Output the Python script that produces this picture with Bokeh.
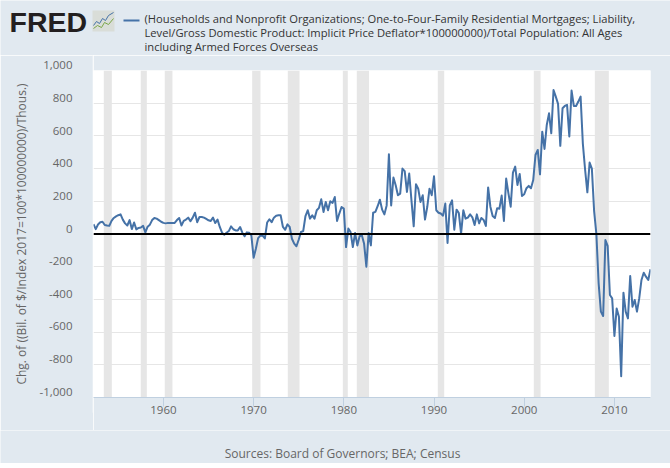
from bokeh.plotting import figure
from bokeh.layouts import column, row
from bokeh.models import FixedTicker, NumeralTickFormatter, Span
from bokeh.core.properties import value
from bokeh.embed import file_html
from bokeh.resources import INLINE

BG = "#e1e9f0"
LINE = "#4572a7"
GREY = "#666666"
FONT = "Open Sans"

start_year = 1952.25
values_1950s = [60, 30, 58,
    72, 75, 55, 52, 50, 80, 98, 108, 115, 120, 88, 65, 52, 85, 30, 70,
    28, 37, 40, 50, 10, 45, 57, 85, 98, 94, 85, 75]
values_1960s = [68, 65, 68, 68, 68, 68, 85, 98, 52, 80, 88, 100, 78, 100, 130, 72,
    104, 104, 100, 92, 84, 80, 100, 67, 88, 43, 8, -4, 8, 18, 47, 29,
    22, 22, 43, 8, -14, 10, 8, -8]
values_1970s = [-145, -90, -25, -10, -10, -27, 70, 90, 72, 100, 112, 114,
    114, 43, 26, 59, 43, -29, -59, -75, -35, 12, 18, 110, 145, 94, 114, 94,
    145, 160, 212, 135, 196, 145, 200, 190, 226, 80, 125, 165]
values_1980s = [155, -80, 33, 12, -80, 6, -70, -14, -8, -60, -200, 6, -70, 130, 135, 170,
    210, 149, 120, 175, 488, 175, 345, 298, 237, 247, 400, 385, 257, 370, 206, 47,
    304, 277, 196, 237, 88, 165, 277, 237]
values_1990s = [353, 145, 130, 125, 112, 186, -55, 175, 206, 26, 149, 128, 2, 145, 94, 100,
    120, 102, 55, 120, 65, 98, 86, 49, 285, 167, 110, 98, 157, 155, 235, 80,
    339, 249, 167, 375, 412, 300, 367, 233]
values_2000s = [243, 280, 294, 280, 330, 483, 514, 365, 626, 520, 667, 738, 616, 881, 840, 796,
    539, 769, 783, 790, 596, 877, 783, 783, 810, 840, 553, 393, 255, 437, 400, 140,
    0, -302, -475, -502, -37, -73, -373, -394]
values_2010s = [-624, -455, -506, -870, -359, -475, -516, -257, -445, -404, -475, -394,
    -281, -237, -261, -281, -216]
values = values_1950s + values_1960s + values_1970s + values_1980s + values_1990s + values_2000s + values_2010s
years = [start_year + i * 0.25 for i in range(len(values))]

rec_start = [1953.39, 1957.49, 1960.15, 1969.84, 1973.79, 1979.89, 1981.44, 1990.42, 2001.06, 2007.83]
rec_end = [1954.28, 1958.16, 1961.0, 1970.76, 1975.09, 1980.44, 1982.8, 1991.13, 2001.81, 2009.38]

x_ticks = [1960, 1970, 1980, 1990, 2000, 2010]
y_ticks = [-1000, -800, -600, -400, -200, 0, 200, 400, 600, 800, 1000]

title_lines = [
    "(Households and Nonprofit Organizations; One-to-Four-Family Residential Mortgages; Liability,",
    "Level/Gross Domestic Product: Implicit Price Deflator*100000000)/Total Population: All Ages",
    "including Armed Forces Overseas",
]
title_ys = [18, 32, 46]
y_title = "Chg. of ((Bil. of $/Index 2017=100*100000000)/Thous.)"
source_text = "Sources: Board of Governors; BEA; Census"


def strip(w, h):
    """Blank figure whose frame fills it; coordinates run in page pixels."""
    f = figure(width=w, height=h, output_backend="svg", toolbar_location=None,
               x_range=(0, w), y_range=(h, 0), x_axis_location=None, y_axis_location=None,
               background_fill_color=BG, border_fill_color=BG,
               min_border=0)
    f.outline_line_color = None
    f.grid.visible = False
    return f


# header: logo and legend
head = strip(670, 55)
head.text([9], [21.5], text=["FRED"], text_font=value("Liberation Sans"), text_font_size="28.5px",
          text_font_style="bold", text_color="#231f20", text_baseline="middle")
head.quad(left=[92], right=[114], top=[10], bottom=[31], fill_color="#d9ddd8", line_color=None)
head.line([93, 96, 99, 102, 105, 108, 113], [25, 21, 23, 18, 20, 15, 12], line_color=LINE, line_width=1)
head.line([93, 97, 101, 104, 108, 113], [28, 25, 27, 22, 24, 18], line_color="#7aa648", line_width=1)
head.line([123, 139], [20, 20], line_color=LINE, line_width=2)
head.text([144] * 3, title_ys, text=title_lines, text_font=value(FONT), text_font_size="11.2px",
          text_color="#333333", text_baseline="middle")

# main plot
p = figure(width=577, height=375, output_backend="svg", toolbar_location=None,
           x_range=(start_year, 2014.0), y_range=(-1000, 1000), y_axis_location=None,
           background_fill_color="white", border_fill_color=BG,
           min_border_left=0, min_border_right=20, min_border_top=15, min_border_bottom=33)
p.outline_line_color = None
p.quad(left=rec_start, right=rec_end, bottom=-1000, top=1000, fill_color="#e6e6e6",
       line_color=None, level="underlay")
p.line(years, values, line_color=LINE, line_width=2, line_join="round")
p.add_layout(Span(location=0, dimension="width", line_color="black", line_width=2))
p.xgrid.visible = False
p.ygrid.grid_line_color = "#e6e6e6"
p.ygrid.grid_line_width = 1
p.ygrid.ticker = FixedTicker(ticks=y_ticks)

xa = p.xaxis[0]
xa.ticker = FixedTicker(ticks=x_ticks)
xa.formatter = NumeralTickFormatter(format="0")
xa.axis_line_color = "#c0d0e0"
xa.major_tick_line_color = "#c0d0e0"
xa.major_tick_out = 9
xa.major_tick_in = 0
xa.minor_tick_line_color = None
xa.major_label_standoff = -1
xa.major_label_text_font = FONT
xa.major_label_text_font_size = "11.5px"
xa.major_label_text_color = GREY

# y axis: sits in its own strip so its labels ride 5px above the gridlines, as in the original
ys = figure(width=93, height=375, output_backend="svg", toolbar_location=None,
            x_range=(0, 1), y_range=(-1128.7, 1061.3), x_axis_location=None,
            background_fill_color=BG, border_fill_color=BG,
            min_border_left=92, min_border_right=0, min_border_top=0, min_border_bottom=18)
ys.outline_line_color = None
ys.grid.visible = False
ya = ys.yaxis[0]
ya.ticker = FixedTicker(ticks=y_ticks)
ya.formatter = NumeralTickFormatter(format="0,0")
ya.axis_line_color = None
ya.major_tick_line_color = None
ya.minor_tick_line_color = None
ya.major_label_standoff = 14
ya.major_label_text_font = FONT
ya.major_label_text_font_size = "11.5px"
ya.major_label_text_color = GREY
ya.axis_label = y_title
ya.axis_label_standoff = 7
ya.axis_label_text_font = FONT
ya.axis_label_text_font_size = "12px"
ya.axis_label_text_font_style = "normal"
ya.axis_label_text_color = GREY

# footer
foot = strip(670, 33)
foot.text([342], [23], text=[source_text], text_font=value(FONT), text_font_size="12px",
          text_color=GREY, text_align="center", text_baseline="middle")

page = column(head, row(column(ys, spacing=0), p, spacing=0), foot, spacing=0)
open("out.html", "w").write(file_html(page, INLINE))
